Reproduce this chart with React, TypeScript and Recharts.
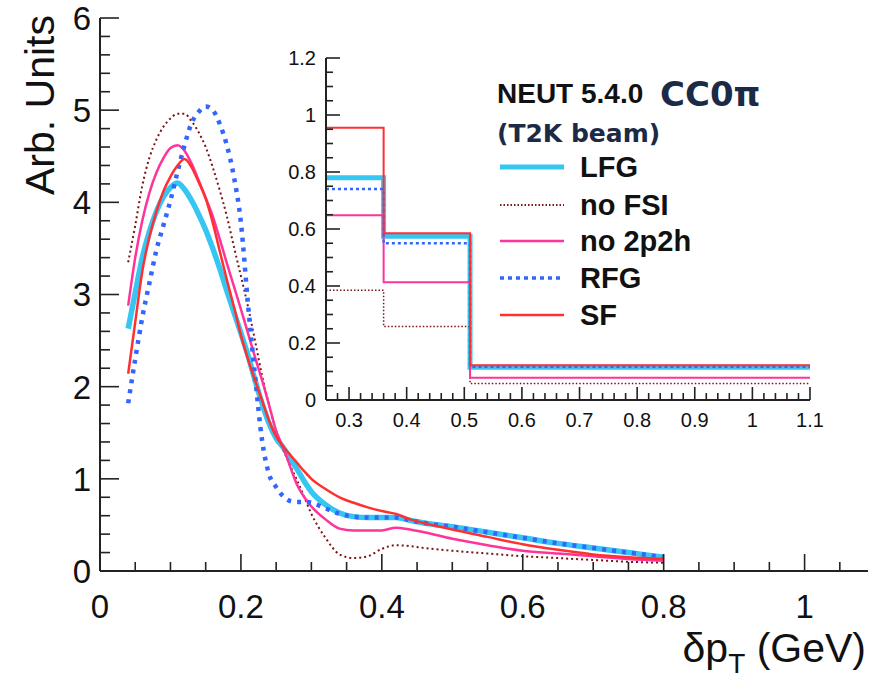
import { Line, LineChart, XAxis, YAxis } from "recharts"

// δpT bin centres of the smooth curves (GeV)
const DPT = [
  0.04, 0.05, 0.06, 0.07, 0.08, 0.09, 0.1, 0.11, 0.12, 0.13, 0.14, 0.15, 0.16, 0.17, 0.18, 0.19, 0.2, 0.21,
  0.22, 0.23, 0.24, 0.25, 0.26, 0.27, 0.28, 0.29, 0.3, 0.32, 0.34, 0.36, 0.38, 0.4, 0.42, 0.44, 0.46, 0.5,
  0.55, 0.6, 0.65, 0.7, 0.75, 0.8,
]
const LFG = [
  2.63, 3.02, 3.4, 3.68, 3.9, 4.06, 4.16, 4.21, 4.14, 4.02, 3.87, 3.7, 3.5, 3.28, 3.04, 2.81, 2.58, 2.34,
  2.07, 1.82, 1.6, 1.44, 1.34, 1.22, 1.1, 0.97, 0.86, 0.72, 0.63, 0.59, 0.58, 0.58, 0.58, 0.55, 0.52, 0.48,
  0.42, 0.36, 0.3, 0.25, 0.2, 0.15,
]
const NO_FSI = [
  3.35, 3.75, 4.18, 4.48, 4.68, 4.82, 4.91, 4.96, 4.96, 4.88, 4.76, 4.6, 4.38, 4.13, 3.85, 3.52, 3.2, 2.87,
  2.5, 2.12, 1.8, 1.52, 1.32, 1.14, 0.98, 0.8, 0.62, 0.36, 0.18, 0.14, 0.16, 0.24, 0.28, 0.27, 0.25, 0.22,
  0.19, 0.16, 0.14, 0.12, 0.1, 0.09,
]
const NO_2P2H = [
  2.88, 3.4, 3.8, 4.1, 4.32, 4.48, 4.59, 4.62, 4.56, 4.42, 4.24, 4.05, 3.85, 3.6, 3.34, 3.09, 2.84, 2.58,
  2.32, 2.07, 1.8, 1.52, 1.34, 1.13, 0.93, 0.8, 0.7, 0.56, 0.46, 0.44, 0.44, 0.44, 0.47, 0.45, 0.42, 0.35,
  0.28, 0.22, 0.19, 0.16, 0.13, 0.11,
]
const RFG = [
  1.82, 2.3, 2.75, 3.12, 3.48, 3.75, 4.02, 4.33, 4.62, 4.86, 4.98, 5.04, 5.0, 4.85, 4.62, 4.28, 3.78, 2.9,
  2.12, 1.42, 1.05, 0.91, 0.81, 0.76, 0.75, 0.75, 0.74, 0.68, 0.62, 0.59, 0.58, 0.58, 0.58, 0.55, 0.52, 0.48,
  0.42, 0.36, 0.3, 0.25, 0.2, 0.15,
]
const SF = [
  2.14, 2.7, 3.25, 3.62, 3.9, 4.12, 4.28, 4.4, 4.47, 4.38, 4.22, 4.04, 3.78, 3.47, 3.16, 2.87, 2.56, 2.3,
  2.07, 1.85, 1.63, 1.46, 1.35, 1.26, 1.17, 1.08, 1.0, 0.89, 0.8, 0.74, 0.69, 0.65, 0.62, 0.56, 0.52, 0.45,
  0.37, 0.29, 0.23, 0.18, 0.15, 0.13,
]

// inset histogram: bin edges and contents
const INSET_EDGES = [0.26, 0.36, 0.51, 1.1]
const LFG_BINS = [0.78, 0.575, 0.115]
const NO_FSI_BINS = [0.385, 0.258, 0.058]
const NO_2P2H_BINS = [0.648, 0.413, 0.078]
const RFG_BINS = [0.74, 0.55, 0.117]
const SF_BINS = [0.955, 0.585, 0.122]

const MAIN_X_LABELS = ["0", "0.2", "0.4", "0.6", "0.8", "1"]
const MAIN_Y_LABELS = ["0", "1", "2", "3", "4", "5", "6"]
const INSET_X_LABELS = ["0.3", "0.4", "0.5", "0.6", "0.7", "0.8", "0.9", "1", "1.1"]
const INSET_Y_LABELS = ["0", "0.2", "0.4", "0.6", "0.8", "1", "1.2"]

const C_LFG = "#36c6f2"
const C_NOFSI = "#7a1616"
const C_NO2P2H = "#ff3399"
const C_RFG = "#3366ff"
const C_SF = "#ff3030"
const FONT = "'Liberation Sans', Arial, Helvetica, sans-serif"
const FRAME = "#222"

const mainData = DPT.map((x, i) => ({
  x,
  lfg: LFG[i],
  nofsi: NO_FSI[i],
  no2p2h: NO_2P2H[i],
  rfg: RFG[i],
  sf: SF[i],
}))

const insetData = INSET_EDGES.map((x, i) => {
  const b = Math.min(i, LFG_BINS.length - 1)
  return {
    x,
    lfg: LFG_BINS[b],
    nofsi: NO_FSI_BINS[b],
    no2p2h: NO_2P2H_BINS[b],
    rfg: RFG_BINS[b],
    sf: SF_BINS[b],
  }
})

function stepTicks(lo: number, hi: number, step: number) {
  const out: number[] = []
  for (let v = lo; v <= hi + 1e-9; v += step) out.push(Number(v.toFixed(4)))
  return out
}

type Side = "bottom" | "top" | "left" | "right"

function makeTick(side: Side, labels: string[], majorLen: number, minorLen: number, fontSize: number, gap: number) {
  return (props: any) => {
    const { x, y, payload } = props
    const v = payload.value as number
    const label = labels.find((l) => Math.abs(Number(l) - v) < 1e-6)
    const len = label !== undefined ? majorLen : minorLen
    let x2 = x
    let y2 = y
    if (side === "bottom") y2 = y - len
    if (side === "top") y2 = y + len
    if (side === "left") x2 = x + len
    if (side === "right") x2 = x - len
    const showText = label !== undefined && (side === "bottom" || side === "left")
    return (
      <g>
        <line x1={x} y1={y} x2={x2} y2={y2} stroke={FRAME} strokeWidth={1.6} />
        {showText && side === "bottom" && (
          <text x={x} y={y + gap} textAnchor="middle" fontSize={fontSize} fontFamily={FONT} fill="#111">
            {label}
          </text>
        )}
        {showText && side === "left" && (
          <text x={x - gap} y={y + fontSize * 0.36} textAnchor="end" fontSize={fontSize} fontFamily={FONT} fill="#111">
            {label}
          </text>
        )}
      </g>
    )
  }
}

const mainXTicks = stepTicks(0, 1.05, 0.05)
const mainYTicks = stepTicks(0, 6, 0.2)
const insetXTicks = stepTicks(0.26, 1.1, 0.02)
const insetYTicks = stepTicks(0, 1.2, 0.05)

const axisLine = { stroke: FRAME, strokeWidth: 2 }

function MainPlot() {
  return (
    <LineChart width={871} height={679} data={mainData} margin={{ top: 18, right: 3, bottom: 0, left: 0 }}>
      <XAxis
        dataKey="x"
        type="number"
        domain={[0, 1.09]}
        ticks={mainXTicks}
        interval={0}
        height={108}
        tickSize={0}
        tickMargin={0}
        tickLine={false}
        axisLine={axisLine}
        tick={makeTick("bottom", MAIN_X_LABELS, 17, 9, 33, 47)}
      />
      <XAxis
        xAxisId="top"
        orientation="top"
        dataKey="x"
        type="number"
        domain={[0, 1.09]}
        ticks={mainXTicks}
        interval={0}
        height={0}
        tickSize={0}
        tickMargin={0}
        tickLine={false}
        axisLine={axisLine}
        tick={makeTick("top", MAIN_X_LABELS, 17, 9, 33, 0)}
      />
      <YAxis
        type="number"
        domain={[0, 6]}
        ticks={mainYTicks}
        interval={0}
        width={100}
        tickSize={0}
        tickMargin={0}
        tickLine={false}
        axisLine={axisLine}
        tick={makeTick("left", MAIN_Y_LABELS, 19, 10, 33, 9)}
      />
      <YAxis
        yAxisId="right"
        orientation="right"
        type="number"
        domain={[0, 6]}
        ticks={mainYTicks}
        interval={0}
        width={0}
        tickSize={0}
        tickMargin={0}
        tickLine={false}
        axisLine={axisLine}
        tick={makeTick("right", MAIN_Y_LABELS, 19, 10, 33, 0)}
      />
      <Line type="monotone" dataKey="lfg" stroke={C_LFG} strokeWidth={5.5} dot={false} isAnimationActive={false} />
      <Line
        type="monotone"
        dataKey="nofsi"
        stroke={C_NOFSI}
        strokeWidth={2}
        strokeDasharray="2 3"
        dot={false}
        isAnimationActive={false}
      />
      <Line type="monotone" dataKey="no2p2h" stroke={C_NO2P2H} strokeWidth={2.5} dot={false} isAnimationActive={false} />
      <Line
        type="monotone"
        dataKey="rfg"
        stroke={C_RFG}
        strokeWidth={4.5}
        strokeDasharray="4 6"
        dot={false}
        isAnimationActive={false}
      />
      <Line type="monotone" dataKey="sf" stroke={C_SF} strokeWidth={2.5} dot={false} isAnimationActive={false} />
    </LineChart>
  )
}

function InsetPlot() {
  return (
    <LineChart width={580} height={400} data={insetData} margin={{ top: 18, right: 20, bottom: 0, left: 0 }}>
      <XAxis
        dataKey="x"
        type="number"
        domain={[0.26, 1.1]}
        ticks={insetXTicks}
        interval={0}
        height={40}
        tickSize={0}
        tickMargin={0}
        tickLine={false}
        axisLine={axisLine}
        tick={makeTick("bottom", INSET_X_LABELS, 13, 7, 20, 27)}
      />
      <XAxis
        xAxisId="top"
        orientation="top"
        dataKey="x"
        type="number"
        domain={[0.26, 1.1]}
        ticks={insetXTicks}
        interval={0}
        height={0}
        tickSize={0}
        tickMargin={0}
        tickLine={false}
        axisLine={axisLine}
        tick={makeTick("top", INSET_X_LABELS, 13, 7, 20, 0)}
      />
      <YAxis
        type="number"
        domain={[0, 1.2]}
        ticks={insetYTicks}
        interval={0}
        width={76}
        tickSize={0}
        tickMargin={0}
        tickLine={false}
        axisLine={axisLine}
        tick={makeTick("left", INSET_Y_LABELS, 14, 7, 20, 10)}
      />
      <YAxis
        yAxisId="right"
        orientation="right"
        type="number"
        domain={[0, 1.2]}
        ticks={insetYTicks}
        interval={0}
        width={0}
        tickSize={0}
        tickMargin={0}
        tickLine={false}
        axisLine={axisLine}
        tick={makeTick("right", INSET_Y_LABELS, 14, 7, 20, 0)}
      />
      <Line type="stepAfter" dataKey="lfg" stroke={C_LFG} strokeWidth={5} dot={false} isAnimationActive={false} />
      <Line
        type="stepAfter"
        dataKey="nofsi"
        stroke={C_NOFSI}
        strokeWidth={1.5}
        strokeDasharray="1.5 2"
        dot={false}
        isAnimationActive={false}
      />
      <Line type="stepAfter" dataKey="no2p2h" stroke={C_NO2P2H} strokeWidth={2} dot={false} isAnimationActive={false} />
      <Line
        type="stepAfter"
        dataKey="rfg"
        stroke={C_RFG}
        strokeWidth={2.5}
        strokeDasharray="3 3"
        dot={false}
        isAnimationActive={false}
      />
      <Line type="stepAfter" dataKey="sf" stroke={C_SF} strokeWidth={2} dot={false} isAnimationActive={false} />
    </LineChart>
  )
}

const legendItems = [
  { label: "LFG", color: C_LFG, width: 5, dash: undefined, y: 167 },
  { label: "no FSI", color: C_NOFSI, width: 2, dash: "1.5 2", y: 205 },
  { label: "no 2p2h", color: C_NO2P2H, width: 2.5, dash: undefined, y: 241 },
  { label: "RFG", color: C_RFG, width: 3.5, dash: "4 4", y: 278 },
  { label: "SF", color: C_SF, width: 2.5, dash: undefined, y: 315 },
]

function Overlay() {
  return (
    <svg width={871} height={679} style={{ position: "absolute", left: 0, top: 0, pointerEvents: "none" }}>
      <text
        transform="translate(40,15) rotate(-90)"
        textAnchor="end"
        dominantBaseline="central"
        fontSize={41}
        fontFamily={FONT}
        fill="#111"
      >
        Arb. Units
      </text>
      <text x={866} y={662} textAnchor="end" fontSize={41} fontFamily={FONT} fill="#111">
        δp
        <tspan dy={11} fontSize={28}>
          T
        </tspan>
        <tspan dy={-11}> (GeV)</tspan>
      </text>
      <text x={497} y={103} fontSize={28} fontWeight="bold" fontFamily={FONT} fill="#111">
        NEUT 5.4.0
      </text>
      <text x={660} y={106} fontSize={34} fontFamily="'DejaVu Sans', sans-serif" fontWeight="bold" fill="#1b2a47">
        CC0π
      </text>
      <text x={497} y={142} fontSize={25} fontWeight="bold" fontFamily="'DejaVu Sans', sans-serif" fill="#1b2a47">
        (T2K beam)
      </text>
      {legendItems.map((it) => (
        <g key={it.label}>
          <line x1={500} y1={it.y} x2={564} y2={it.y} stroke={it.color} strokeWidth={it.width} strokeDasharray={it.dash} />
          <text x={580} y={it.y + 10} fontSize={29} fontWeight="bold" fontFamily={FONT} fill="#111">
            {it.label}
          </text>
        </g>
      ))}
    </svg>
  )
}

export default function App() {
  return (
    <div style={{ position: "absolute", left: 0, top: 0, width: 871, height: 679, background: "#fff" }}>
      <MainPlot />
      <div style={{ position: "absolute", left: 250, top: 40 }}>
        <InsetPlot />
      </div>
      <Overlay />
    </div>
  )
}
